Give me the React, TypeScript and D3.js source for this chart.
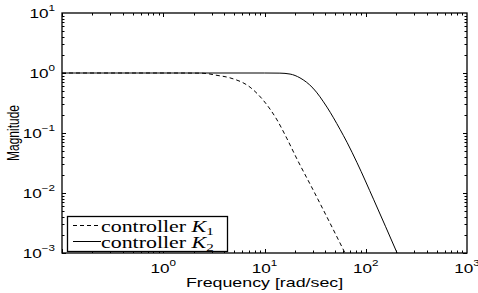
import React from "react";
import * as d3 from "d3";

// values
const freqK1 = [0.1, 1, 2.3, 2.8, 3.24, 4.56, 7.2, 9.67, 13.3, 16.7, 20.9, 30, 62.4];
const magK1 = [1, 1, 0.995, 0.97, 0.926, 0.83, 0.58, 0.355, 0.165, 0.08, 0.037, 0.0115, 0.001];
const freqK2 = [0.1, 10, 14.2, 17.9, 22.4, 30.1, 41.4, 55.7, 65.3, 82, 120, 204];
const magK2 = [1, 1, 0.995, 0.96, 0.83, 0.56, 0.27, 0.115, 0.07, 0.032, 0.0077, 0.001];
const xTickExps = [0, 1, 2, 3];
const yTickExps = [1, 0, -1, -2, -3];
const legendLabels = ["controller ", "controller "];
const legendSubs = ["1", "2"];

const SX = 1.37; // the reference is stretched horizontally
const sans = "'Liberation Sans', Arial, Helvetica, sans-serif";
const serif = "'Liberation Serif', 'Times New Roman', serif";

const W = 478, H = 293;
const left = 62, right = 467, top = 13, bottom = 253;

const Stretched = ({ x, y, children, rotate = 0 }: any) => (
  <g transform={`translate(${x},${y}) scale(${SX},1)${rotate ? ` rotate(${rotate})` : ""}`}>{children}</g>
);

export default function App() {
  const x = d3.scaleLog().domain([0.1, 1000]).range([left, right]);
  const y = d3.scaleLog().domain([1e-3, 10]).range([bottom, top]);

  const line = d3
    .line<[number, number]>()
    .x((d) => x(d[0]))
    .y((d) => y(d[1]))
    .curve(d3.curveMonotoneX);

  const k1 = line(freqK1.map((f, i) => [f, magK1[i]]));
  const k2 = line(freqK2.map((f, i) => [f, magK2[i]]));

  // minor + major ticks for each decade
  const xTicks: { v: number; major: boolean }[] = [];
  for (let e = -1; e < 3; e++) for (let m = 1; m < 10; m++) xTicks.push({ v: m * 10 ** e, major: m === 1 });
  const yTicks: { v: number; major: boolean }[] = [];
  for (let e = -3; e < 1; e++) for (let m = 1; m < 10; m++) yTicks.push({ v: m * 10 ** e, major: m === 1 });

  const majLen = 4, minLen = 2.5;

  return (
    <svg width={W} height={H} style={{ position: "absolute", left: 0, top: 0, background: "#fff" }}>
      <defs>
        <clipPath id="plotClip">
          <rect x={left} y={top} width={right - left} height={bottom - top} />
        </clipPath>
      </defs>

      {/* ticks */}
      <g stroke="#000" strokeWidth={1}>
        {xTicks.map((t, i) => {
          const px = Math.round(x(t.v)) + 0.5;
          const len = t.major ? majLen : minLen;
          return (
            <g key={"x" + i}>
              <line x1={px} x2={px} y1={bottom} y2={bottom - len} />
              <line x1={px} x2={px} y1={top} y2={top + len} />
            </g>
          );
        })}
        {yTicks.map((t, i) => {
          const py = Math.round(y(t.v)) + 0.5;
          const len = t.major ? majLen : minLen;
          return (
            <g key={"y" + i}>
              <line x1={left} x2={left + len} y1={py} y2={py} />
              <line x1={right} x2={right - len} y1={py} y2={py} />
            </g>
          );
        })}
      </g>

      {/* curves */}
      <g clipPath="url(#plotClip)" fill="none" stroke="#000" strokeWidth={1}>
        <path d={k1 || ""} strokeDasharray="4,3" />
        <path d={k2 || ""} />
      </g>

      {/* axes box */}
      <rect x={left} y={top} width={right - left} height={bottom - top} fill="none" stroke="#000" strokeWidth={1.3} />

      {/* x tick labels */}
      {xTickExps.map((e) => (
        <Stretched key={"xl" + e} x={x(10 ** e)} y={273}>
          <text textAnchor="middle" fontFamily={sans} fontSize={12.5} fill="#000">
            10<tspan dy={-7} fontSize={8.5}>{e < 0 ? "−" + -e : e}</tspan>
          </text>
        </Stretched>
      ))}

      {/* y tick labels */}
      {yTickExps.map((e) => (
        <Stretched key={"yl" + e} x={55} y={y(10 ** e) + 4.5}>
          <text textAnchor="end" fontFamily={sans} fontSize={12.5} fill="#000">
            10<tspan dy={-7} fontSize={8.5}>{e < 0 ? "−" + -e : e}</tspan>
          </text>
        </Stretched>
      ))}

      {/* axis titles */}
      <Stretched x={(left + right) / 2} y={287}>
        <text textAnchor="middle" fontFamily={sans} fontSize={13} fill="#000">
          Frequency [rad/sec]
        </text>
      </Stretched>
      <Stretched x={19} y={(top + bottom) / 2} rotate={-90}>
        <text textAnchor="middle" fontFamily={sans} fontSize={12} fill="#000">
          Magnitude
        </text>
      </Stretched>

      {/* legend */}
      <rect x={67.5} y={216.5} width={160} height={35} fill="#fff" stroke="#000" strokeWidth={1.3} />
      {legendLabels.map((lab, i) => {
        const by = 232 + i * 16;
        return (
          <g key={"lg" + i}>
            <line
              x1={73}
              x2={101}
              y1={by - 6.5}
              y2={by - 6.5}
              stroke="#000"
              strokeWidth={1}
              strokeDasharray={i === 0 ? "4,3" : undefined}
            />
            <Stretched x={101} y={by}>
              <text fontFamily={serif} fontSize={16} fill="#000">
                {lab}
                <tspan fontStyle="italic">K</tspan>
                <tspan dy={3} fontSize={11}>{legendSubs[i]}</tspan>
              </text>
            </Stretched>
          </g>
        );
      })}
    </svg>
  );
}
